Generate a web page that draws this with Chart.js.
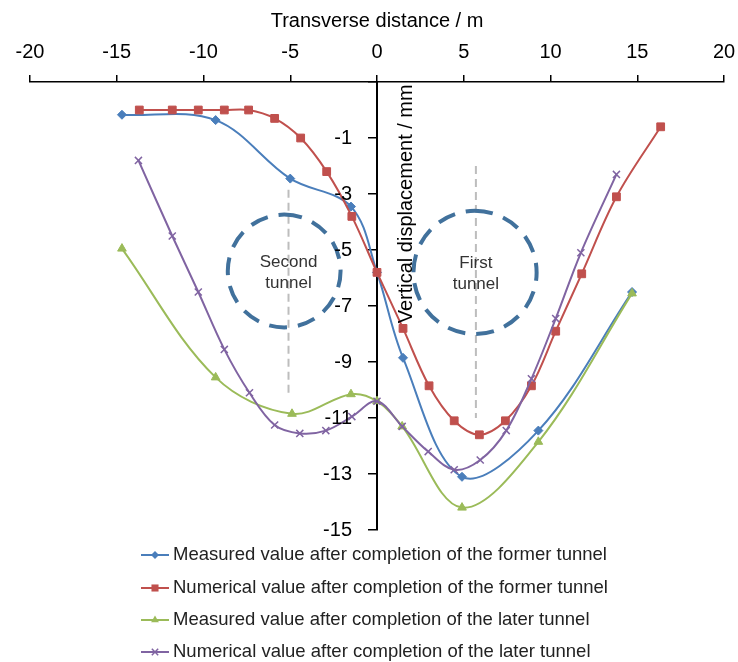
<!DOCTYPE html>
<html>
<head>
<meta charset="utf-8">
<script src="https://cdn.jsdelivr.net/npm/chart.js@4.4.0/dist/chart.umd.min.js"></script>
<style>
  body { margin: 0; background: #fff; }
  canvas { display: block; }
</style>
</head>
<body>
<canvas id="settlement" width="738" height="662"></canvas>
<script>
// transverse distance (m) / vertical displacement (mm)
const seriesNames = [
  'Measured value after completion of the former tunnel',
  'Numerical value after completion of the former tunnel',
  'Measured value after completion of the later tunnel',
  'Numerical value after completion of the later tunnel'
];
const measFormerX = [-14.7, -9.3, -5.0, -1.5, 0, 1.5, 4.9, 9.3, 14.7];
const measFormerY = [-0.17, -0.36, -2.45, -3.45, -5.8, -8.85, -13.1, -11.45, -6.5];
const numFormerX = [-13.7, -11.8, -10.3, -8.8, -7.4, -5.9, -4.4, -2.9, -1.45, 0, 1.5, 3.0, 4.45, 5.9, 7.4, 8.9, 10.3, 11.8, 13.8, 16.35];
const numFormerY = [0, 0, 0, 0, 0, -0.3, -1.0, -2.2, -3.8, -5.8, -7.8, -9.85, -11.1, -11.6, -11.1, -9.85, -7.9, -5.85, -3.1, -0.6];
const measLaterX = [-14.7, -9.3, -4.9, -1.5, 0, 1.45, 4.9, 9.3, 14.7];
const measLaterY = [-4.95, -9.55, -10.85, -10.15, -10.4, -11.3, -14.2, -11.85, -6.55];
const numLaterX = [-13.75, -11.8, -10.3, -8.8, -7.35, -5.9, -4.45, -2.95, -1.45, 0, 1.45, 2.95, 4.45, 5.95, 7.45, 8.9, 10.3, 11.75, 13.8];
const numLaterY = [-1.8, -4.5, -6.5, -8.55, -10.1, -11.25, -11.55, -11.45, -10.95, -10.4, -11.3, -12.2, -12.85, -12.5, -11.45, -9.6, -7.45, -5.1, -2.3];

const yTickLabels = [-1, -3, -5, -7, -9, -11, -13, -15];

// tunnel sketches (data units)
const tunnelNames = [['Second', 'tunnel'], ['First', 'tunnel']];
const tunnelCentreX = [-5.35, 5.65];
const tunnelCentreY = [-5.75, -5.8];
const tunnelRadius = [3.25, 3.55];
const guideX = [-5.1, 5.7];
const guideTop = [-2.85, -2.0];
const guideBottom = [-10.1, -11.0];

const colors = ['#4a7ebb', '#c0504d', '#9bbb59', '#8064a2'];
const markers = ['rectRot', 'rect', 'triangle', 'crossRot'];
const markerSize = [4.5, 5.5, 5, 5];
const FONT = '"Liberation Sans", Arial, sans-serif';

function series(i, xs, ys) {
  return {
    label: seriesNames[i],
    data: xs.map((v, k) => ({ x: v, y: ys[k] })),
    borderColor: colors[i],
    backgroundColor: colors[i],
    borderWidth: 2,
    pointStyle: markers[i],
    pointRadius: markerSize[i],
    pointBackgroundColor: colors[i],
    pointBorderColor: colors[i],
    pointBorderWidth: markers[i] === 'crossRot' ? 1.5 : 1,
    tension: 0.35,
    fill: false,
    order: 4 - i
  };
}

function drawMarker(ctx, style, x, y, r) {
  ctx.beginPath();
  if (style === 'rectRot') {
    ctx.moveTo(x, y - r); ctx.lineTo(x + r, y); ctx.lineTo(x, y + r); ctx.lineTo(x - r, y);
    ctx.closePath(); ctx.fill();
  } else if (style === 'rect') {
    const s = r * Math.SQRT1_2;
    ctx.rect(x - s, y - s, 2 * s, 2 * s); ctx.fill();
  } else if (style === 'triangle') {
    ctx.moveTo(x, y - r); ctx.lineTo(x + r * 0.87, y + r * 0.5); ctx.lineTo(x - r * 0.87, y + r * 0.5);
    ctx.closePath(); ctx.fill();
  } else {
    const s = r * Math.SQRT1_2;
    ctx.moveTo(x - s, y - s); ctx.lineTo(x + s, y + s);
    ctx.moveTo(x + s, y - s); ctx.lineTo(x - s, y + s);
    ctx.lineWidth = 1.5; ctx.stroke();
  }
}

const overlay = {
  id: 'overlay',
  beforeDatasetsDraw(chart) {
    const { ctx, scales: { x, y } } = chart;
    ctx.save();
    ctx.strokeStyle = '#bdbdbd';
    ctx.lineWidth = 2;
    ctx.setLineDash([8, 5]);
    guideX.forEach((gx, i) => {
      const px = x.getPixelForValue(gx);
      ctx.beginPath();
      ctx.moveTo(px, y.getPixelForValue(guideTop[i]));
      ctx.lineTo(px, y.getPixelForValue(guideBottom[i]));
      ctx.stroke();
    });
    tunnelCentreX.forEach((cx, i) => {
      const px = x.getPixelForValue(cx);
      const py = y.getPixelForValue(tunnelCentreY[i]);
      const r = x.getPixelForValue(cx + tunnelRadius[i]) - px;
      ctx.strokeStyle = '#41719c';
      ctx.lineWidth = 4;
      ctx.setLineDash([18, 11]);
      ctx.beginPath();
      ctx.arc(px, py, r, -Math.PI / 2, Math.PI * 1.5);
      ctx.stroke();
      const tx = x.getPixelForValue(guideX[i]);
      ctx.fillStyle = '#333';
      ctx.font = '17px ' + FONT;
      ctx.textAlign = 'center';
      ctx.textBaseline = 'middle';
      ctx.fillText(tunnelNames[i][0], tx, py - 9);
      ctx.fillText(tunnelNames[i][1], tx, py + 12);
    });
    ctx.restore();
  },
  afterDraw(chart) {
    const { ctx, scales: { x, y } } = chart;
    const axisX = x.getPixelForValue(0);
    ctx.save();
    // y tick labels, left of the central axis
    ctx.fillStyle = '#000';
    ctx.font = '20px ' + FONT;
    ctx.textAlign = 'right';
    ctx.textBaseline = 'middle';
    yTickLabels.forEach(v => ctx.fillText(String(v), axisX - 25, y.getPixelForValue(v)));
    // y title, right of the axis
    ctx.save();
    ctx.translate(axisX + 29, y.getPixelForValue(-3.35));
    ctx.rotate(-Math.PI / 2);
    ctx.textAlign = 'center';
    ctx.fillText('Vertical displacement / mm', 0, 0);
    ctx.restore();
    // legend
    const rows = [555, 588, 620, 652];
    ctx.font = '18.5px ' + FONT;
    ctx.textAlign = 'left';
    seriesNames.forEach((name, i) => {
      const ly = rows[i];
      ctx.strokeStyle = colors[i];
      ctx.fillStyle = colors[i];
      ctx.lineWidth = 2;
      ctx.beginPath();
      ctx.moveTo(141, ly);
      ctx.lineTo(169, ly);
      ctx.stroke();
      drawMarker(ctx, markers[i], 155, ly, markerSize[i] - 0.5);
      ctx.fillStyle = '#222';
      ctx.fillText(name, 173, ly);
    });
    ctx.restore();
  }
};

new Chart(document.getElementById('settlement'), {
  type: 'line',
  data: {
    datasets: [
      series(0, measFormerX, measFormerY),
      series(1, numFormerX, numFormerY),
      series(2, measLaterX, measLaterY),
      series(3, numLaterX, numLaterY)
    ]
  },
  options: {
    responsive: false,
    animation: false,
    devicePixelRatio: 1,
    layout: { padding: { top: 0, left: 30, right: 14, bottom: 132 } },
    plugins: { legend: { display: false }, tooltip: { enabled: false } },
    scales: {
      x: {
        type: 'linear',
        position: 'top',
        min: -20,
        max: 20,
        afterFit: s => { s.height = 82; s.paddingLeft = 0; s.paddingRight = 0; },
        ticks: { stepSize: 5, color: '#000', font: { size: 20, family: FONT }, padding: 11 },
        grid: { drawOnChartArea: false, tickLength: 7, color: '#000', lineWidth: 1.5 },
        border: { color: '#000', width: 1.5 },
        title: { display: true, text: 'Transverse distance / m', color: '#000', font: { size: 20, family: FONT }, padding: { top: 9, bottom: 0 } }
      },
      y: {
        type: 'linear',
        position: { x: 0 },
        min: -15,
        max: 1,
        ticks: { stepSize: 2, display: false },
        grid: { drawOnChartArea: false, tickLength: 8, color: '#000', lineWidth: 1.5 },
        border: { color: '#000', width: 2 }
      }
    }
  },
  plugins: [overlay]
});
</script>
</body>
</html>
